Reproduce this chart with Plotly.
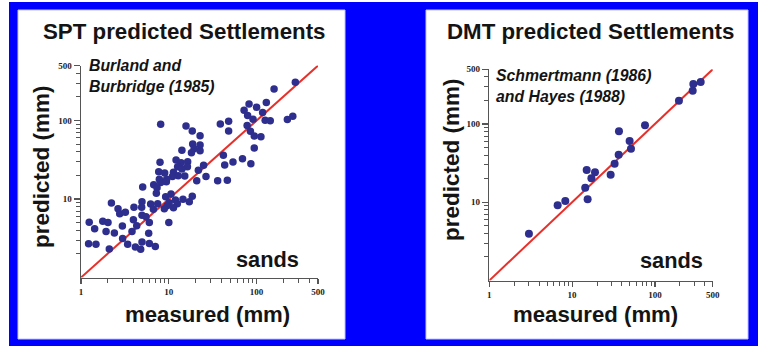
import math
import plotly.graph_objects as go

W, H = 765, 356

# ---------------- data (mm) ----------------
# SPT predicted settlements (Burland and Burbridge 1985)
spt_measured = [276, 158, 129, 82, 100, 72, 117, 79, 91, 125,
                143, 258, 224, 78, 85, 94, 112, 94, 86, 69,
                48, 38.6, 48, 41.8, 43.3, 53.8, 36, 46.4,
                8.08, 15.7, 18.5, 22.7, 18.7, 22.7, 19.4, 22.7, 14.1, 18.1,
                12.1, 13.8, 16.4, 16.3, 7.94, 12.6, 24.9, 21.7, 14.1, 7.67,
                8.97, 11.3, 12.8, 15.2, 11.0, 20.8, 26.5, 9.46, 7.80, 8.08,
                6.73, 7.34, 9.38, 5.04, 7.21, 9.21, 10.6, 10.1, 9.54, 11.9,
                12.5, 14.5, 17.1, 18.5, 7.47, 8.89, 11.3, 10.0, 6.21, 6.67,
                4.95,
                2.22, 2.64, 2.76, 3.20, 4.01, 4.91, 3.95, 4.95, 4.31, 5.50,
                6.0, 1.24, 1.43, 1.77, 2.03, 1.93, 2.40, 2.96, 3.81, 5.90,
                2.98, 1.22, 1.48, 2.10, 3.40, 4.16, 4.78, 4.95, 6.0, 7.02]
spt_predicted = [306, 252, 169, 162, 147, 135, 126, 116, 104, 101,
                 99.5, 113, 103, 86, 73, 63.5, 62, 44.7, 28.2, 32.6,
                 97.6, 90.2, 73.5, 36, 27.1, 29.6, 17.1, 17.3,
                 89.4, 85.1, 73.5, 64.1, 50.2, 48.7, 43.8, 41.3, 41.7, 38.9,
                 31.4, 29.0, 29.9, 25.8, 29.3, 25.8, 26.9, 23.2, 24.1, 22.3,
                 21.4, 21.9, 19.8, 19.6, 19.3, 17.1, 19.3, 17.8, 17.8, 16.2,
                 15.2, 13.9, 16.6, 14.2, 11.8, 10.7, 11.6, 8.98, 8.22, 9.71,
                 8.72, 9.91, 9.25, 10.8, 8.72, 7.53, 7.76, 5.0, 8.63, 7.38,
                 9.25,
                 8.89, 7.53, 6.50, 6.76, 7.83, 7.83, 5.45, 6.19, 4.57, 5.96,
                 5.0, 5.04, 4.19, 5.19, 5.0, 3.84, 3.69, 4.53, 3.84, 3.65,
                 3.15, 2.70, 2.65, 2.31, 2.65, 2.45, 2.29, 2.83, 2.72, 2.49]

# DMT predicted settlements (Schmertmann 1986 and Hayes 1988)
dmt_measured = [3.01, 6.69, 8.28, 14.4, 15.4, 15.0, 17.1, 18.9, 29.2, 32.6,
                36.5, 36.8, 49.5, 51.4, 75.9, 195, 286, 291, 357]
dmt_predicted = [3.96, 9.12, 10.4, 15.3, 10.9, 25.8, 20.2, 24.1, 22.5, 31.1,
                 40.5, 80.4, 60.5, 48.3, 95.9, 198, 266, 323, 343]

# 1:1 line
line_vals = [1, 500]

# ticks
major_x = [1, 10, 100, 500]
major_x_text = ["1", "10", "100", "500"]
major_y = [10, 100, 500]
major_y_text = ["10", "100", "500"]
minor_vals = [2, 3, 4, 5, 6, 7, 8, 9, 20, 30, 40, 50, 60, 70, 80, 90, 200, 300, 400]

titles = ["SPT predicted Settlements", "DMT predicted Settlements"]
sources = ["Burland and<br>Burbridge (1985)", "Schmertmann (1986)<br>and Hayes (1988)"]

# ---------------- layout helpers ----------------
def fx(p):
    return p / W

def fy(p):
    return 1 - p / H

BLUE = "#0000FF"
DOT = "#2E2E8E"
RED = "#E8302A"
AX = "#555555"
TXT = "#141414"
SANS = "Liberation Sans, Arial, sans-serif"

fig = go.Figure()

fig.add_trace(go.Scatter(x=line_vals, y=line_vals, mode="lines",
                         line=dict(color=RED, width=2), xaxis="x", yaxis="y",
                         showlegend=False, hoverinfo="skip"))
fig.add_trace(go.Scatter(x=spt_measured, y=spt_predicted, mode="markers",
                         marker=dict(color=DOT, size=7.5, line=dict(width=0)),
                         xaxis="x", yaxis="y", showlegend=False))
fig.add_trace(go.Scatter(x=line_vals, y=line_vals, mode="lines",
                         line=dict(color=RED, width=2), xaxis="x2", yaxis="y2",
                         showlegend=False, hoverinfo="skip"))
fig.add_trace(go.Scatter(x=dmt_measured, y=dmt_predicted, mode="markers",
                         marker=dict(color=DOT, size=8, line=dict(width=0)),
                         xaxis="x2", yaxis="y2", showlegend=False))

rng = [0, math.log10(500)]
tickfont = dict(family="Liberation Serif, Times New Roman, serif", size=9, color="#222222", weight="bold")

def xax(domain, anchor):
    return dict(type="log", range=rng, domain=domain, anchor=anchor, automargin=False,
                showgrid=False, zeroline=False, showline=True, linecolor=AX, linewidth=1.5,
                ticks="outside", ticklen=5, tickwidth=1.2, tickcolor=AX,
                tickmode="array", tickvals=major_x, ticktext=major_x_text, tickfont=tickfont,
                minor=dict(tickvals=minor_vals, ticks="outside", ticklen=4, tickwidth=1, tickcolor=AX),
                fixedrange=True)

def yax(domain, anchor):
    return dict(type="log", range=rng, domain=domain, anchor=anchor, automargin=False,
                showgrid=False, zeroline=False, showline=True, linecolor=AX, linewidth=1.5,
                ticks="outside", ticklen=6, tickwidth=1.2, tickcolor=AX,
                tickmode="array", tickvals=major_y, ticktext=major_y_text, tickfont=tickfont,
                minor=dict(tickvals=minor_vals, ticks="outside", ticklen=4, tickwidth=1, tickcolor=AX),
                fixedrange=True)

# panel geometry (pixels)
L_x0, L_x1, L_y0, L_y1 = 81, 318, 277.5, 65.6
R_x0, R_x1, R_y0, R_y1 = 489.3, 712.8, 280.5, 69.2

shapes = [
    dict(type="rect", xref="paper", yref="paper", x0=fx(9), x1=fx(758), y0=fy(346), y1=fy(2),
         fillcolor=BLUE, line=dict(width=0), layer="below"),
    dict(type="rect", xref="paper", yref="paper", x0=fx(18), x1=fx(345), y0=fy(339), y1=fy(10),
         fillcolor="white", line=dict(width=1, color="#BFC4FF"), layer="below"),
    dict(type="rect", xref="paper", yref="paper", x0=fx(426), x1=fx(748), y0=fy(339), y1=fy(10),
         fillcolor="white", line=dict(width=1, color="#BFC4FF"), layer="below"),
]

def ann(text, x, y, size, xanchor="center", yanchor="middle", angle=0, italic=False, align="center"):
    return dict(text=text, x=fx(x), y=fy(y), xref="paper", yref="paper", showarrow=False,
                xanchor=xanchor, yanchor=yanchor, textangle=angle, align=align,
                font=dict(family=SANS, size=size, color=TXT, weight="bold",
                          style="italic" if italic else "normal"))

annotations = [
    ann(titles[0], 184, 31, 22.3),
    ann(titles[1], 590, 31, 22.3),
    ann("predicted (mm)", 41, 167, 22.5, angle=-90),
    ann("predicted (mm)", 451, 160, 22.5, angle=-90),
    ann("measured (mm)", 207.5, 314, 22.2),
    ann("measured (mm)", 595, 314, 22.2),
    ann(sources[0], 87, 76, 15.8, xanchor="left", italic=True, align="left"),
    ann(sources[1], 494, 86, 15.8, xanchor="left", italic=True, align="left"),
    ann("sands", 267.5, 259, 21.8),
    ann("sands", 671.5, 260, 21.8),
]

fig.update_layout(
    width=W, height=H, margin=dict(l=0, r=0, t=0, b=0),
    paper_bgcolor="white", plot_bgcolor="rgba(0,0,0,0)",
    showlegend=False,
    xaxis=xax([fx(L_x0), fx(L_x1)], "y"),
    yaxis=yax([fy(L_y0), fy(L_y1)], "x"),
    xaxis2=xax([fx(R_x0), fx(R_x1)], "y2"),
    yaxis2=yax([fy(R_y0), fy(R_y1)], "x2"),
    shapes=shapes,
    annotations=annotations,
)

fig.write_html("out.html",
               config={"displayModeBar": False, "staticPlot": True},
               post_script="document.body.style.margin='0';document.body.style.overflow='hidden';")
